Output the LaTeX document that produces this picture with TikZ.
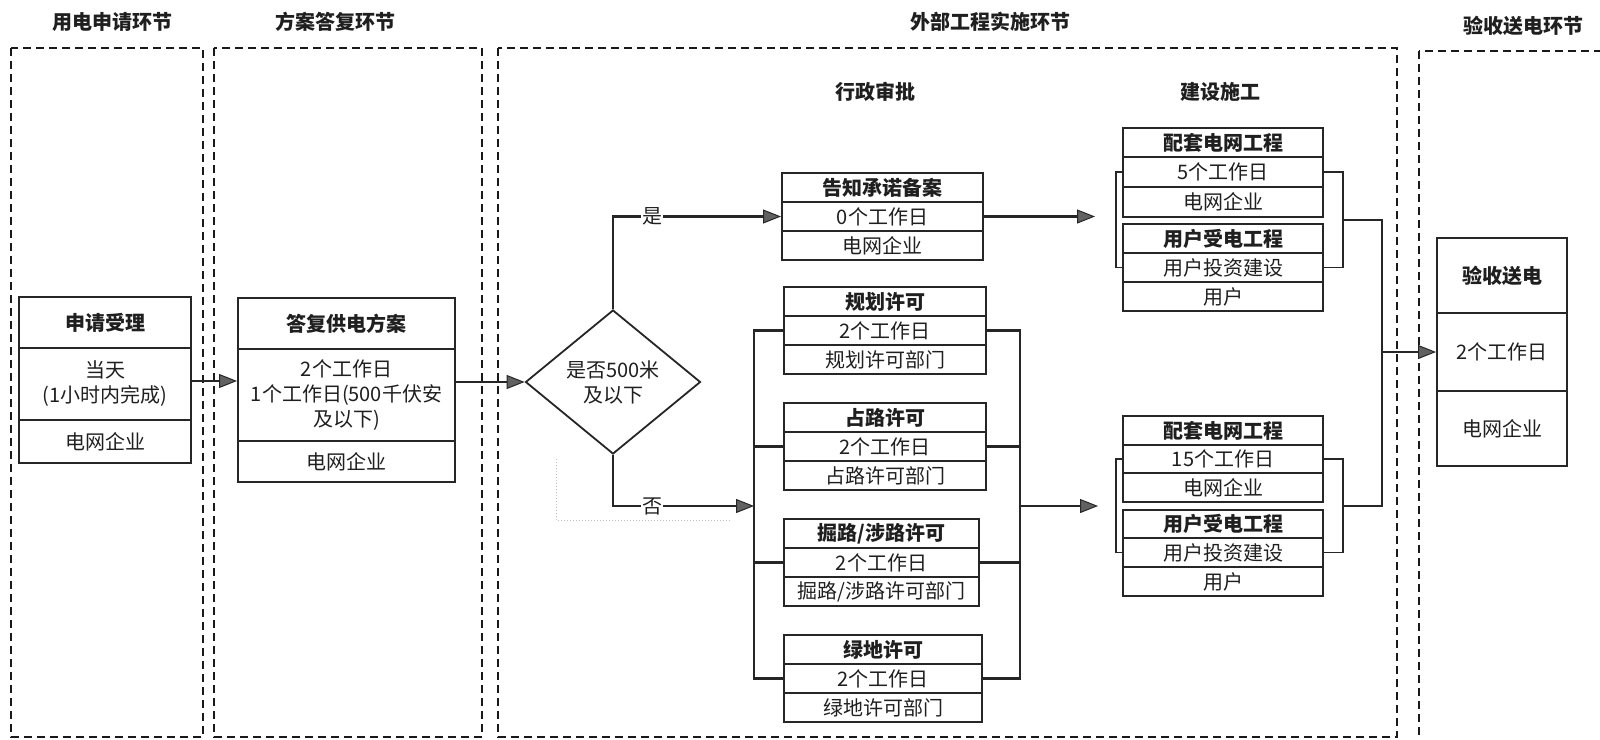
\documentclass[tikz,border=0pt]{standalone}
\usepackage{fontspec}
\setmainfont{Noto Sans CJK SC}
\usetikzlibrary{arrows.meta,shapes.geometric}
\begin{document}
\begin{tikzpicture}[x=1pt,y=-1pt,
  txt/.style={font=\fontsize{20}{25}\selectfont, text=black!88},
  cell/.style={draw=black!85, line width=2pt, inner sep=0pt, align=center, txt},
  hd/.style={cell, font=\fontsize{20}{25}\selectfont\bfseries},
  panel/.style={draw=black!90, line width=2pt, dash pattern=on 8pt off 5pt},
  conn/.style={draw=black!85, line width=2.2pt},
  arr/.style={conn, -{Triangle[length=18pt,width=14pt,fill=black!62,line width=1pt]}},
  ttl/.style={font=\fontsize{20}{25}\selectfont\bfseries, text=black!88},
  lbl/.style={txt, fill=white, inner sep=1pt}
]
\fill[white] (0,0) rectangle (1600,739);
\useasboundingbox (0,0) rectangle (1600,739);

% panels
\draw[panel] (11,48) rectangle (203,737);
\draw[panel] (214,48) rectangle (482,737);
\draw[panel] (498,48) rectangle (1397,737);
\draw[panel] (1419,51) rectangle (1640,760);

% titles
\node[ttl] (t1) at (112,22) {用电申请环节};
\node[ttl] (t2) at (335,22) {方案答复环节};
\node[ttl] (t3) at (990,22) {外部工程实施环节};
\node[ttl] (t4) at (1523,26) {验收送电环节};
\node[ttl] (st1) at (875,92) {行政审批};
\node[ttl] (st2) at (1220,92) {建设施工};

% box 1
\node[hd, minimum width=172pt, minimum height=51pt] (a1) at (105,322.5) {申请受理};
\node[cell, minimum width=172pt, minimum height=72pt] (a2) at (105,384) {当天\\(1小时内完成)};
\node[cell, minimum width=172pt, minimum height=43pt] (a3) at (105,441.5) {电网企业};

% box 2
\node[hd, minimum width=217pt, minimum height=51pt] (s1) at (346.5,323.5) {答复供电方案};
\node[cell, minimum width=217pt, minimum height=92pt] (s2) at (346.5,395) {2个工作日\\1个工作日(500千伏安\\及以下)};
\node[cell, minimum width=217pt, minimum height=41pt] (s3) at (346.5,461.5) {电网企业};

% decision
\node[draw=black!85, line width=1.8pt, shape=diamond, aspect=1.2, minimum width=175pt, minimum height=144pt, inner sep=0pt, align=center, txt] (dia) at (613,382) {是否500米\\及以下};

% 告知承诺备案
\node[hd, minimum width=201pt, minimum height=29pt] (g1) at (882.5,187.5) {告知承诺备案};
\node[cell, minimum width=201pt, minimum height=29pt] (g2) at (882.5,216.5) {0个工作日};
\node[cell, minimum width=201pt, minimum height=29pt] (g3) at (882.5,245.5) {电网企业};

% 规划许可
\node[hd, minimum width=202pt, minimum height=29pt] (p1a) at (885,301.5) {规划许可};
\node[cell, minimum width=202pt, minimum height=29pt] (p1b) at (885,330.5) {2个工作日};
\node[cell, minimum width=202pt, minimum height=29pt] (p1c) at (885,359.5) {规划许可部门};

% 占路许可
\node[hd, minimum width=202pt, minimum height=29pt] (p2a) at (885,417.5) {占路许可};
\node[cell, minimum width=202pt, minimum height=29pt] (p2b) at (885,446.5) {2个工作日};
\node[cell, minimum width=202pt, minimum height=29pt] (p2c) at (885,475.5) {占路许可部门};

% 掘路/涉路许可
\node[hd, minimum width=195pt, minimum height=29pt] (p3a) at (881.5,533.5) {掘路/涉路许可};
\node[cell, minimum width=195pt, minimum height=29pt] (p3b) at (881.5,562.5) {2个工作日};
\node[cell, minimum width=195pt, minimum height=29pt] (p3c) at (881.5,591.5) {掘路/涉路许可部门};

% 绿地许可
\node[hd, minimum width=198pt, minimum height=29pt] (p4a) at (883,649.5) {绿地许可};
\node[cell, minimum width=198pt, minimum height=29pt] (p4b) at (883,678.5) {2个工作日};
\node[cell, minimum width=198pt, minimum height=29pt] (p4c) at (883,707.5) {绿地许可部门};

% construction, top group
\node[hd, minimum width=200pt, minimum height=29pt] (ta1) at (1223,142.5) {配套电网工程};
\node[cell, minimum width=200pt, minimum height=30pt] (ta2) at (1223,172) {5个工作日};
\node[cell, minimum width=200pt, minimum height=30pt] (ta3) at (1223,202) {电网企业};
\node[hd, minimum width=200pt, minimum height=29pt] (tb1) at (1223,238.5) {用户受电工程};
\node[cell, minimum width=200pt, minimum height=29pt] (tb2) at (1223,267.5) {用户投资建设};
\node[cell, minimum width=200pt, minimum height=29pt] (tb3) at (1223,296.5) {用户};

% construction, bottom group
\node[hd, minimum width=200pt, minimum height=29pt] (ua1) at (1223,430.5) {配套电网工程};
\node[cell, minimum width=200pt, minimum height=28pt] (ua2) at (1223,459) {15个工作日};
\node[cell, minimum width=200pt, minimum height=29pt] (ua3) at (1223,487.5) {电网企业};
\node[hd, minimum width=200pt, minimum height=28pt] (ub1) at (1223,524) {用户受电工程};
\node[cell, minimum width=200pt, minimum height=29pt] (ub2) at (1223,552.5) {用户投资建设};
\node[cell, minimum width=200pt, minimum height=29pt] (ub3) at (1223,581.5) {用户};

% acceptance
\node[hd, minimum width=130pt, minimum height=75pt] (v1) at (1502,275.5) {验收送电};
\node[cell, minimum width=130pt, minimum height=78pt] (v2) at (1502,352) {2个工作日};
\node[cell, minimum width=130pt, minimum height=75pt] (v3) at (1502,428.5) {电网企业};

% coordinates
\coordinate (brL) at (754,506);
\coordinate (brR) at (1020,506);
\coordinate (tipA) at (1095,216.5);
\coordinate (tipB) at (1098,506);
\coordinate (tR) at (1343,220);
\coordinate (bR) at (1343,506);
\coordinate (col) at (1382,352);

% connectors
\draw[arr] ([yshift=3pt]a2.east) -- ([yshift=3pt]a2.east -| s2.west);
\draw[arr] (dia.west -| s2.east) -- (dia.west);
\draw[arr] (dia.north) |- (g2.west);
\draw[arr] (dia.south) |- (brL);
\node[lbl] (yes) at (652,216.5) {是};
\node[lbl] (no) at (652,506) {否};

% approval brackets
\draw[conn] (p1b.west) -| (brL) |- (p4b.west);
\draw[conn] (p2b.west) -- (p2b.west -| brL);
\draw[conn] (p3b.west) -- (p3b.west -| brL);
\draw[conn] (p1b.east) -| (brR) |- (p4b.east);
\draw[conn] (p2b.east) -- (p2b.east -| brR);
\draw[conn] (p3b.east) -- (p3b.east -| brR);

\draw[arr] (g2.east) -- (tipA);
\draw[arr] (brR) -- (tipB);

% group brackets
\draw[conn, line width=1.8pt] (ta2.west) -- ++(-6,0) |- (tb2.west);
\draw[conn, line width=1.8pt] (ta2.east) -| (tR) |- (tb2.east);
\draw[conn, line width=1.8pt] (ua2.west) -- ++(-6,0) |- (ub2.west);
\draw[conn, line width=1.8pt] (ua2.east) -| (bR) |- (ub2.east);

% collector
\draw[conn] (tR) -| (col);
\draw[conn] (bR) -| (col);
\draw[arr] (col) -- (v2.west);

% faint scan trace
\draw[black!25, line width=1pt, dotted] (556,459) -- (556,520) -- (730,520);
\end{tikzpicture}
\end{document}
